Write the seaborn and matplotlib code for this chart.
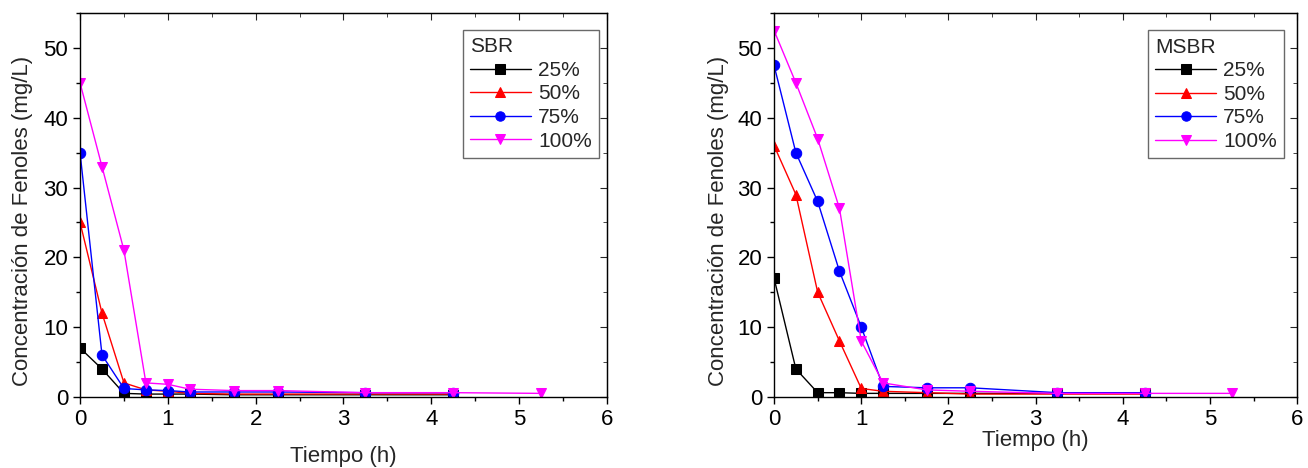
import matplotlib
matplotlib.use("Agg")
import matplotlib.pyplot as plt
import seaborn as sns
import pandas as pd
from matplotlib.ticker import MultipleLocator

# Time points (h)
t_sbr = [0, 0.25, 0.5, 0.75, 1, 1.25, 1.75, 2.25, 3.25, 4.25, 5.25]
t_msbr = [0, 0.25, 0.5, 0.75, 1, 1.25, 1.75, 2.25, 3.25, 4.25, 5.25]

# SBR phenol concentration (mg/L)
sbr_25 = [7, 4, 0.5, 0.4, 0.4, 0.4, 0.3, 0.3, 0.3, 0.3]
sbr_50 = [25, 12, 2, 1, 0.8, 0.5, 0.4, 0.4, 0.4, 0.4]
sbr_75 = [35, 6, 1.2, 1.0, 0.9, 0.7, 0.7, 0.7, 0.6, 0.6]
sbr_100 = [45, 33, 21, 2, 1.8, 1.1, 0.9, 0.9, 0.6, 0.6, 0.5]

# MSBR phenol concentration (mg/L)
msbr_25 = [17, 4, 0.6, 0.6, 0.5, 0.5, 0.5, 0.5, 0.5, 0.5]
msbr_50 = [36, 29, 15, 8, 1.2, 0.8, 0.6, 0.4, 0.4, 0.4]
msbr_75 = [47.5, 35, 28, 18, 10, 1.5, 1.3, 1.3, 0.6, 0.6]
msbr_100 = [52.5, 45, 37, 27, 8, 2, 1, 0.8, 0.5, 0.5, 0.5]

labels = ["25%", "50%", "75%", "100%"]
colors = ["black", "red", "blue", "magenta"]
markers = ["s", "^", "o", "v"]

sns.set_style("ticks")
plt.rcParams["font.family"] = ["Liberation Sans", "DejaVu Sans"]
plt.rcParams["font.size"] = 16

FS = 16
LEG_FS = 15


def draw_panel(ax, times, series, title, xlabel_y, leg_anchor):
    for vals, lab, col, mk in zip(series, labels, colors, markers):
        df = pd.DataFrame({"t": times[:len(vals)], "c": vals})
        sns.lineplot(data=df, x="t", y="c", ax=ax, color=col, marker=mk,
                     markersize=7.5, markeredgecolor=col, linewidth=1,
                     label=lab)
    ax.set_xlim(0, 6)
    ax.set_ylim(0, 55)
    ax.xaxis.set_major_locator(MultipleLocator(1))
    ax.xaxis.set_minor_locator(MultipleLocator(0.5))
    ax.yaxis.set_major_locator(MultipleLocator(10))
    ax.yaxis.set_minor_locator(MultipleLocator(5))
    ax.tick_params(which="both", direction="out", width=1, labelsize=FS,
                   top=False, right=False, colors="black")
    ax.tick_params(which="major", length=5)
    ax.tick_params(which="minor", length=3)
    for sp in ax.spines.values():
        sp.set_visible(True)
        sp.set_linewidth(1)
        sp.set_color("black")
    # inward mirror ticks on top and right
    sec_x = ax.secondary_xaxis("top")
    sec_x.xaxis.set_major_locator(MultipleLocator(1))
    sec_x.xaxis.set_minor_locator(MultipleLocator(0.5))
    sec_x.tick_params(which="both", direction="in", labeltop=False)
    sec_x.tick_params(which="major", length=5)
    sec_x.tick_params(which="minor", length=3)
    sec_y = ax.secondary_yaxis("right")
    sec_y.yaxis.set_major_locator(MultipleLocator(10))
    sec_y.yaxis.set_minor_locator(MultipleLocator(5))
    sec_y.tick_params(which="both", direction="in", labelright=False)
    sec_y.tick_params(which="major", length=5)
    sec_y.tick_params(which="minor", length=3)

    ax.set_xlabel("Tiempo (h)", fontsize=FS)
    ax.xaxis.set_label_coords(0.5, xlabel_y)
    ax.xaxis.label.set_va("center")
    ax.set_ylabel("Concentración de Fenoles (mg/L)", fontsize=FS)
    ax.yaxis.set_label_coords(-0.1095, 0.458)
    ax.yaxis.label.set_va("center")
    leg = ax.legend(title=title, loc="upper right",
                    bbox_to_anchor=leg_anchor, fontsize=LEG_FS,
                    title_fontsize=LEG_FS, frameon=True, fancybox=False,
                    edgecolor="#444444", handlelength=2.9, markerscale=0.9,
                    borderpad=0.35, labelspacing=0.22, handletextpad=0.35,
                    borderaxespad=0)
    leg._legend_box.align = "left"
    leg.get_frame().set_linewidth(1)


fig = plt.figure(figsize=(13.08, 4.68), dpi=100)
ax1 = fig.add_axes([0.0612, 0.152, 0.4028, 0.820])
ax2 = fig.add_axes([0.5918, 0.152, 0.4000, 0.820])

draw_panel(ax1, t_sbr, [sbr_25, sbr_50, sbr_75, sbr_100], "SBR",
           -0.156, (0.985, 0.956))
draw_panel(ax2, t_msbr, [msbr_25, msbr_50, msbr_75, msbr_100], "MSBR",
           -0.115, (0.975, 0.955))
ax2.yaxis.set_label_coords(-0.1065, 0.458)

fig.savefig("out.png", dpi=100)
